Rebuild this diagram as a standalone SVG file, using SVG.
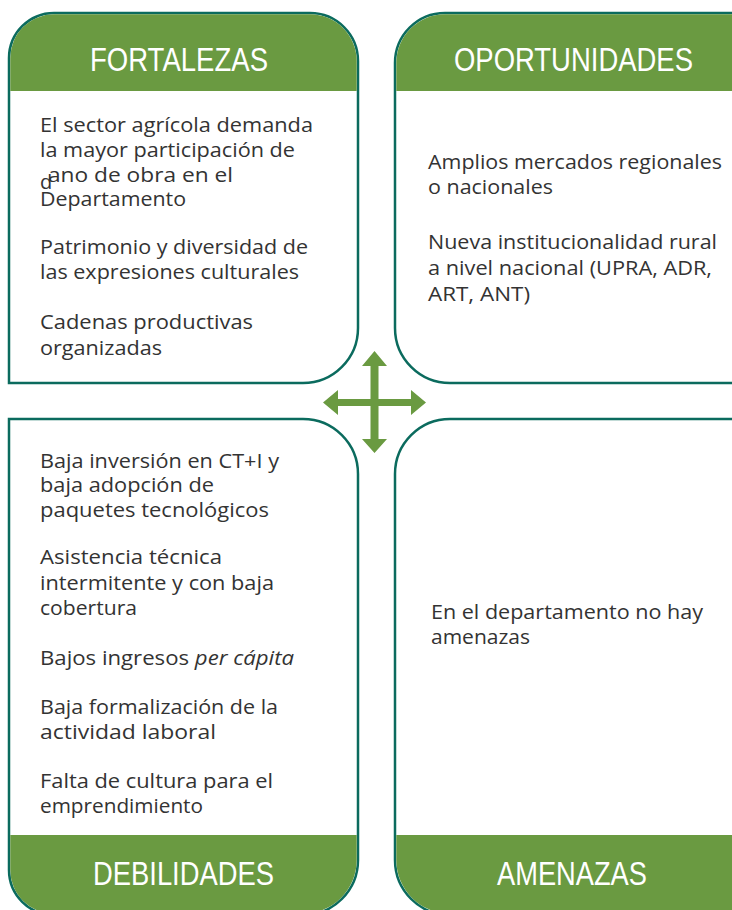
<svg xmlns="http://www.w3.org/2000/svg" width="732" height="910" viewBox="0 0 732 910">
<style>
.box{fill:#ffffff;stroke:#0B6B5E;stroke-width:2.5}
.hdr{fill:#6A9A41}
.ht{font-family:"Liberation Sans",Arial,sans-serif;font-size:33px;fill:#ffffff}
.bt{font-family:"Open Sans","Noto Sans",sans-serif;font-size:20px;fill:#333333}
.arrow{fill:#6A9A41}
</style>
<rect width="732" height="910" fill="#ffffff"/>
<g id="fortalezas">
<path class="box" d="M9,383 L9,58 A45,45 0 0 1 54,13 L310,13 A48,48 0 0 1 358,61 L358,328 A55,55 0 0 1 303,383 Z"/>
<path class="hdr" d="M10.3,91 L10.3,58 A43.7,43.7 0 0 1 54,14.3 L310,14.3 A46.7,46.7 0 0 1 356.7,61 L356.7,91 Z"/>
<text class="ht" x="90" y="71" textLength="178" lengthAdjust="spacingAndGlyphs">FORTALEZAS</text>
<text class="bt" x="40" y="132" textLength="273" lengthAdjust="spacingAndGlyphs">El sector agrícola demanda</text>
<text class="bt" x="40" y="157" textLength="255" lengthAdjust="spacingAndGlyphs">la mayor participación de</text>
<text class="bt" x="40" y="189" font-size="15">d</text>
<text class="bt" x="48" y="182" textLength="185" lengthAdjust="spacingAndGlyphs">ano de obra en el</text>
<text class="bt" x="40" y="206" textLength="146" lengthAdjust="spacingAndGlyphs">Departamento</text>
<text class="bt" x="40" y="254" textLength="268" lengthAdjust="spacingAndGlyphs">Patrimonio y diversidad de</text>
<text class="bt" x="40" y="279" textLength="259" lengthAdjust="spacingAndGlyphs">las expresiones culturales</text>
<text class="bt" x="40" y="329" textLength="213" lengthAdjust="spacingAndGlyphs">Cadenas productivas</text>
<text class="bt" x="40" y="355" textLength="122" lengthAdjust="spacingAndGlyphs">organizadas</text>
</g>
<g id="oportunidades">
<path class="box" d="M780,13 L445,13 A50,50 0 0 0 395,63 L395,328 A55,55 0 0 0 450,383 L780,383"/>
<path class="hdr" d="M780,14.3 L445,14.3 A48.7,48.7 0 0 0 396.3,63 L396.3,91 L780,91 Z"/>
<text class="ht" x="454" y="71" textLength="239" lengthAdjust="spacingAndGlyphs">OPORTUNIDADES</text>
<text class="bt" x="428" y="169" textLength="294" lengthAdjust="spacingAndGlyphs">Amplios mercados regionales</text>
<text class="bt" x="428" y="194" textLength="125" lengthAdjust="spacingAndGlyphs">o nacionales</text>
<text class="bt" x="428" y="249" textLength="289" lengthAdjust="spacingAndGlyphs">Nueva institucionalidad rural</text>
<text class="bt" x="428" y="275" textLength="284" lengthAdjust="spacingAndGlyphs">a nivel nacional (UPRA, ADR,</text>
<text class="bt" x="428" y="301" textLength="102" lengthAdjust="spacingAndGlyphs">ART, ANT)</text>
</g>
<g id="debilidades">
<path class="box" d="M9,419 L303,419 A55,55 0 0 1 358,474 L358,860 A55,55 0 0 1 303,915 L54,915 A45,45 0 0 1 9,870 Z"/>
<path class="hdr" d="M10.3,835 L356.7,835 L356.7,860 A53.7,53.7 0 0 1 303,913.7 L54,913.7 A43.7,43.7 0 0 1 10.3,870 Z"/>
<text class="ht" x="93" y="885" textLength="181" lengthAdjust="spacingAndGlyphs">DEBILIDADES</text>
<text class="bt" x="40" y="468" textLength="239" lengthAdjust="spacingAndGlyphs">Baja inversión en CT+I y</text>
<text class="bt" x="40" y="492" textLength="174" lengthAdjust="spacingAndGlyphs">baja adopción de</text>
<text class="bt" x="40" y="517" textLength="229" lengthAdjust="spacingAndGlyphs">paquetes tecnológicos</text>
<text class="bt" x="40" y="564" textLength="182" lengthAdjust="spacingAndGlyphs">Asistencia técnica</text>
<text class="bt" x="40" y="590" textLength="234" lengthAdjust="spacingAndGlyphs">intermitente y con baja</text>
<text class="bt" x="40" y="615" textLength="97" lengthAdjust="spacingAndGlyphs">cobertura</text>
<text class="bt" x="40" y="665" textLength="254" lengthAdjust="spacingAndGlyphs">Bajos ingresos <tspan font-style="italic">per cápita</tspan></text>
<text class="bt" x="40" y="714" textLength="238" lengthAdjust="spacingAndGlyphs">Baja formalización de la</text>
<text class="bt" x="40" y="739" textLength="176" lengthAdjust="spacingAndGlyphs">actividad laboral</text>
<text class="bt" x="40" y="788" textLength="233" lengthAdjust="spacingAndGlyphs">Falta de cultura para el</text>
<text class="bt" x="40" y="813" textLength="163" lengthAdjust="spacingAndGlyphs">emprendimiento</text>
</g>
<g id="amenazas">
<path class="box" d="M780,419 L450,419 A55,55 0 0 0 395,474 L395,860 A55,55 0 0 0 450,915 L780,915"/>
<path class="hdr" d="M780,835 L396.3,835 L396.3,860 A53.7,53.7 0 0 0 450,913.7 L780,913.7 Z"/>
<text class="ht" x="497" y="885" textLength="150" lengthAdjust="spacingAndGlyphs">AMENAZAS</text>
<text class="bt" x="431" y="619" textLength="272" lengthAdjust="spacingAndGlyphs">En el departamento no hay</text>
<text class="bt" x="431" y="644" textLength="99" lengthAdjust="spacingAndGlyphs">amenazas</text>
</g>
<g id="connectors">
<polygon class="arrow" points="374.5,351 387,366 378.5,366 378.5,399 411,399 411,390 426,402.5 411,415 411,406 378.5,406 378.5,439 387,439 374.5,453 362,439 370.5,439 370.5,406 338,406 338,415 323,402.5 338,390 338,399 370.5,399 370.5,366 362,366"/>
</g>
</svg>
